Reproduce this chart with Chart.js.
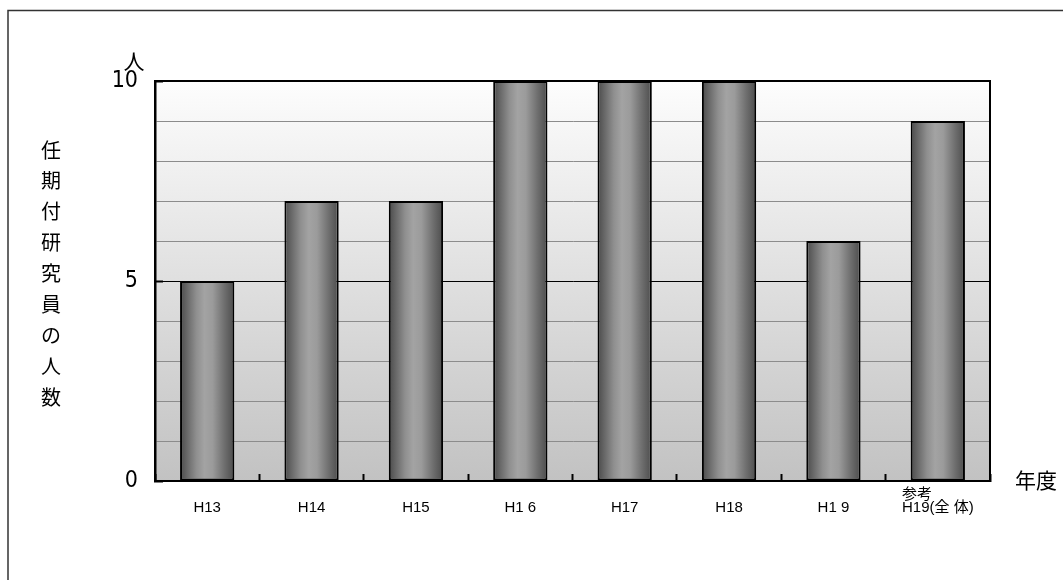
<!DOCTYPE html>
<html lang="ja">
<head>
<meta charset="utf-8">
<title>任期付研究員の人数</title>
<script src="https://cdn.jsdelivr.net/npm/chart.js@4.4.1/dist/chart.umd.min.js"></script>
<style>
  html, body { margin: 0; padding: 0; background: #fff; }
  #wrap { position: relative; width: 1063px; height: 580px; }
</style>
</head>
<body>
<div id="wrap"><canvas id="c" width="1063" height="580"></canvas></div>
<script>
// Fiscal years (x categories) and an optional note shown above a label
const categories = ['H13', 'H14', 'H15', 'H1 6', 'H17', 'H18', 'H1 9', 'H19(全 体)'];
const categoryNotes = ['', '', '', '', '', '', '', '参考'];
// Number of fixed-term researchers per year
const researchers = [5, 7, 7, 10, 10, 10, 6, 9];
// Labelled y ticks
const yTickLabels = [0, 5, 10];
const yTitle = '任期付研究員の人数';
const yUnit = '人';
const xUnit = '年度';

const CJK = '"Noto Sans CJK JP", "Noto Sans CJK SC", sans-serif';
const NUM = '"Liberation Sans Narrow", "DejaVu Sans Condensed", "Liberation Sans", sans-serif';
const LAT = '"Liberation Sans", Arial, "Noto Sans CJK JP", sans-serif';
const LABEL_SIZE = 15;
const BAR_FRACTION = 0.52;

// Cylinder-like horizontal shading for each bar
function barFill(ctx) {
  const chart = ctx.chart;
  const xs = chart.scales && chart.scales.x;
  if (ctx.type !== 'data' || !xs || !chart.chartArea) return '#888';
  const c = xs.getPixelForValue(ctx.dataIndex);
  const half = xs.width / categories.length * BAR_FRACTION / 2;
  const g = chart.ctx.createLinearGradient(c - half, 0, c + half, 0);
  g.addColorStop(0.00, '#4a4a4a');
  g.addColorStop(0.12, '#666666');
  g.addColorStop(0.30, '#8f8f8f');
  g.addColorStop(0.45, '#a3a3a3');
  g.addColorStop(0.60, '#9b9b9b');
  g.addColorStop(0.82, '#6e6e6e');
  g.addColorStop(1.00, '#4c4c4c');
  return g;
}

const decorations = {
  id: 'decorations',
  beforeDraw(chart) {
    const { ctx, chartArea: a } = chart;
    ctx.save();
    // outer frame: top and left edges
    ctx.strokeStyle = '#333';
    ctx.lineWidth = 1.5;
    ctx.beginPath();
    ctx.moveTo(8, chart.height);
    ctx.lineTo(8, 10.5);
    ctx.lineTo(chart.width, 10.5);
    ctx.stroke();
    // plot area vertical gradient
    const g = ctx.createLinearGradient(0, a.top, 0, a.bottom);
    g.addColorStop(0, '#fdfdfd');
    g.addColorStop(1, '#c2c2c2');
    ctx.fillStyle = g;
    ctx.fillRect(a.left, a.top, a.right - a.left, a.bottom - a.top);
    ctx.restore();
  },
  afterDatasetsDraw(chart) {
    const { ctx, chartArea: a } = chart;
    ctx.save();
    ctx.strokeStyle = '#000';
    ctx.lineWidth = 2;
    ctx.beginPath();
    ctx.moveTo(a.left, a.top);
    ctx.lineTo(a.right, a.top);
    ctx.lineTo(a.right, a.bottom);
    ctx.stroke();
    ctx.restore();
  },
  afterDraw(chart) {
    const { ctx, chartArea: a } = chart;
    const xs = chart.scales.x;
    ctx.save();
    ctx.fillStyle = '#000';
    ctx.textAlign = 'center';
    ctx.textBaseline = 'middle';
    // vertical y title, one character per row
    ctx.font = '20px ' + CJK;
    const chars = Array.from(yTitle);
    chars.forEach((ch, i) => ctx.fillText(ch, 51, 150 + i * 30.9));
    // unit above the y axis
    ctx.font = '21px ' + CJK;
    ctx.fillText(yUnit, a.left - 21, a.top - 20);
    // unit right of the x axis
    ctx.textAlign = 'left';
    ctx.fillText(xUnit, a.right + 25, a.bottom - 1);
    // notes above category labels, aligned to the label's left edge
    categoryNotes.forEach((note, i) => {
      if (!note) return;
      ctx.font = LABEL_SIZE + 'px ' + LAT;
      const w = ctx.measureText(categories[i]).width;
      const left = xs.getPixelForValue(i) - w / 2;
      ctx.font = '15px ' + CJK;
      ctx.textAlign = 'left';
      ctx.fillText(note, left, a.bottom + 12);
    });
    ctx.restore();
  }
};

new Chart(document.getElementById('c'), {
  type: 'bar',
  data: {
    labels: categories,
    datasets: [{
      data: researchers,
      backgroundColor: barFill,
      borderColor: '#000',
      borderWidth: 2,
      borderSkipped: false,
      categoryPercentage: BAR_FRACTION,
      barPercentage: 1
    }]
  },
  options: {
    responsive: false,
    animation: false,
    devicePixelRatio: 1,
    layout: { padding: { top: 81, right: 73, bottom: 0, left: 0 } },
    plugins: { legend: { display: false }, tooltip: { enabled: false } },
    scales: {
      x: {
        offset: true,
        grid: {
          display: true,
          offset: true,
          drawOnChartArea: false,
          drawTicks: true,
          tickLength: -7,
          tickWidth: 2,
          tickColor: '#000'
        },
        border: { display: true, color: '#000', width: 2 },
        ticks: {
          color: '#000',
          font: { family: LAT, size: LABEL_SIZE },
          padding: 25,
          maxRotation: 0,
          autoSkip: false
        },
        afterFit(s) { s.height = 99; }
      },
      y: {
        min: 0,
        max: 10,
        ticks: {
          stepSize: 1,
          autoSkip: false,
          padding: 25,
          color: '#000',
          font: { family: NUM, size: 23 },
          callback: v => yTickLabels.includes(v) ? String(v) : ''
        },
        grid: {
          color: c => (c.tick && c.tick.value === 5) ? '#000' : '#8c8c8c',
          lineWidth: 1,
          drawTicks: true,
          tickLength: -8,
          tickWidth: 2,
          tickColor: c => (c.tick && yTickLabels.includes(c.tick.value)) ? '#000' : 'rgba(0,0,0,0)'
        },
        border: { display: true, color: '#000', width: 2.5 },
        afterFit(s) { s.width = 155; }
      }
    }
  },
  plugins: [decorations]
});
</script>
</body>
</html>
